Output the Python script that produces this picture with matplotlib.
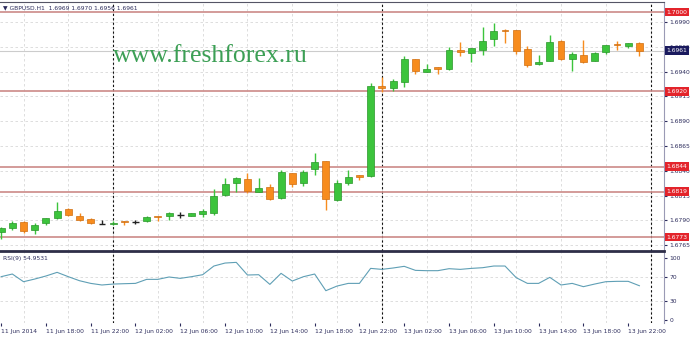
import matplotlib.pyplot as plt
import numpy as np

# GBPUSD H1 candles, first bar = 11 Jun 14:00
opens = [1.67779, 1.67820, 1.67886, 1.67803, 1.67870, 1.67920, 1.68011, 1.67947, 1.67910, 1.67866,
         1.67866, 1.67890, 1.67886, 1.67893, 1.67941, 1.67944, 1.67954, 1.67944, 1.67964, 1.67971,
         1.68155, 1.68273, 1.68314, 1.68189, 1.68233, 1.68122, 1.68374, 1.68273, 1.68414, 1.68501,
         1.68105, 1.68279, 1.68357, 1.68350, 1.69254, 1.69231, 1.69291, 1.69523, 1.69398, 1.69443,
         1.69425, 1.69617, 1.69590, 1.69617, 1.69728, 1.69822, 1.69819, 1.69624, 1.69476, 1.69509,
         1.69711, 1.69526, 1.69567, 1.69509, 1.69594, 1.69680, 1.69660, 1.69690]
highs = [1.67836, 1.67893, 1.67896, 1.67870, 1.67923, 1.68082, 1.68024, 1.67971, 1.67920, 1.67903,
         1.67895, 1.67893, 1.67903, 1.67944, 1.67944, 1.67987, 1.67984, 1.67974, 1.68011, 1.68213,
         1.68324, 1.68332, 1.68380, 1.68324, 1.68266, 1.68407, 1.68377, 1.68407, 1.68576, 1.68501,
         1.68307, 1.68407, 1.68357, 1.69287, 1.69348, 1.69325, 1.69560, 1.69526, 1.69473, 1.69446,
         1.69644, 1.69695, 1.69637, 1.69852, 1.69886, 1.69824, 1.69822, 1.69660, 1.69567, 1.69768,
         1.69713, 1.69594, 1.69718, 1.69592, 1.69670, 1.69708, 1.69691, 1.69700]
lows = [1.67712, 1.67803, 1.67769, 1.67759, 1.67853, 1.67913, 1.67944, 1.67893, 1.67863, 1.67866,
        1.67850, 1.67853, 1.67868, 1.67883, 1.67893, 1.67903, 1.67927, 1.67941, 1.67937, 1.67954,
        1.68145, 1.68189, 1.68179, 1.68186, 1.68105, 1.68115, 1.68239, 1.68246, 1.68357, 1.68004,
        1.68100, 1.68256, 1.68307, 1.68340, 1.69197, 1.69204, 1.69247, 1.69372, 1.69395, 1.69375,
        1.69415, 1.69560, 1.69499, 1.69567, 1.69660, 1.69684, 1.69574, 1.69449, 1.69466, 1.69506,
        1.69516, 1.69405, 1.69491, 1.69506, 1.69574, 1.69617, 1.69640, 1.69560]
closes = [1.67820, 1.67870, 1.67792, 1.67853, 1.67920, 1.67997, 1.67951, 1.67900, 1.67870, 1.67866,
          1.67872, 1.67883, 1.67886, 1.67937, 1.67934, 1.67971, 1.67954, 1.67971, 1.67994, 1.68145,
          1.68266, 1.68324, 1.68199, 1.68223, 1.68112, 1.68384, 1.68263, 1.68390, 1.68491, 1.68112,
          1.68279, 1.68340, 1.68340, 1.69257, 1.69237, 1.69304, 1.69523, 1.69408, 1.69425, 1.69422,
          1.69617, 1.69600, 1.69634, 1.69711, 1.69808, 1.69808, 1.69610, 1.69466, 1.69499, 1.69695,
          1.69523, 1.69574, 1.69493, 1.69590, 1.69667, 1.69667, 1.69688, 1.69610]

rsi = [69.9, 74.2, 61.8, 66.1, 71.0, 76.9, 69.9, 63.4, 59.1, 56.5,
       58.0, 58.6, 59.1, 65.6, 65.6, 69.4, 67.2, 69.9, 73.1, 87.1,
       91.9, 93.0, 72.6, 73.1, 57.5, 75.3, 62.9, 69.9, 74.2, 47.3,
       54.8, 59.1, 59.1, 83.3, 81.7, 83.9, 86.6, 80.1, 79.6, 79.6,
       82.8, 81.7, 83.3, 84.4, 87.1, 87.1, 68.3, 59.1, 59.1, 68.8,
       56.5, 59.1, 53.8, 58.0, 61.8, 62.4, 62.4, 55.3]

time_labels = ['11 Jun 2014', '11 Jun 18:00', '11 Jun 22:00', '12 Jun 02:00', '12 Jun 06:00',
               '12 Jun 10:00', '12 Jun 14:00', '12 Jun 18:00', '12 Jun 22:00', '13 Jun 02:00',
               '13 Jun 06:00', '13 Jun 10:00', '13 Jun 14:00', '13 Jun 18:00', '13 Jun 22:00']
price_ticks = [1.6990, 1.6965, 1.6940, 1.6915, 1.6890, 1.6865, 1.6840, 1.6815, 1.6790, 1.6765]
levels = [1.7000, 1.6920, 1.6844, 1.6819, 1.6773]
last_price = 1.6961
day_starts = [10, 34, 58]  # 12 Jun, 13 Jun, 14 Jun 00:00

green, green_edge = '#3cc43c', '#2a962a'
orange, orange_edge = '#f78c1e', '#d06e10'
txt_col = '#2c2c5c'
fs = 4.3

fig = plt.figure(figsize=(6.94, 3.37), dpi=100)
ax = fig.add_axes([0, 0.2552, 0.9568, 0.7389])
ax2 = fig.add_axes([0, 0.04154, 0.9568, 0.2136])

n = len(opens)
x = np.arange(n)
for i in range(n):
    o, h, l, c = opens[i], highs[i], lows[i], closes[i]
    if c > o:
        col, edge = green, green_edge
    elif c < o:
        col, edge = orange, orange_edge
    else:
        col, edge = '#222222', '#222222'
    ax.vlines(i, l, h, color=col, lw=1, zorder=3)
    if o == c:
        ax.hlines(o, i - 0.3, i + 0.3, color=col, lw=1, zorder=4)
    else:
        ax.bar(i, abs(c - o), 0.62, bottom=min(o, c), color=col, edgecolor=edge,
               lw=0.5, zorder=4)

ax.set_xlim(-0.1, 59.2)
ax.set_ylim(1.67591, 1.70101)

# grid
ax.set_xticks(np.arange(2, 59, 4))
ax.set_yticks(price_ticks)
ax.grid(color='#d8d8d8', ls=(0, (3, 3)), lw=0.6)
ax.set_axisbelow(True)
ax.tick_params(axis='x', length=0, labelbottom=False)
ax.yaxis.tick_right()
ax.tick_params(axis='y', length=2, pad=2, labelsize=fs, colors=txt_col)
ax.set_yticklabels(['%.4f' % t for t in price_ticks])

for d in day_starts:
    ax.axvline(d, color='#111111', ls=(0, (2, 2)), lw=0.8, zorder=2)
    ax2.axvline(d, color='#111111', ls=(0, (2, 2)), lw=0.8, zorder=2)

ax.axhline(last_price, color='#cccccc', lw=0.8, zorder=2)
for lv in levels:
    ax.axhline(lv, color='#cc8a88', lw=1.2, zorder=2)
    ax.text(1.004, lv, '%.4f' % lv, transform=ax.get_yaxis_transform(), ha='left',
            va='center', fontsize=fs, color='white', clip_on=False, zorder=10,
            bbox=dict(boxstyle='square,pad=0.3', fc='#e3242b', ec='none'))
ax.text(1.004, last_price, '%.4f' % last_price, transform=ax.get_yaxis_transform(),
        ha='left', va='center', fontsize=fs, color='white', clip_on=False, zorder=10,
        bbox=dict(boxstyle='square,pad=0.3', fc='#1a1a5e', ec='none'))

ax.text(0.004, 0.977, '\u25bc GBPUSD.H1  1.6969 1.6970 1.6956 1.6961', transform=ax.transAxes,
        ha='left', va='center', fontsize=fs, color=txt_col)
ax.text(0.170, 0.785, 'www.freshforex.ru', transform=ax.transAxes, ha='left', va='center',
        fontsize=18.5, family='Liberation Serif', color='#3c9f55')

for s in ['left', 'bottom']:
    ax.spines[s].set_visible(False)
ax.spines['top'].set_color('#555566')
ax.spines['right'].set_color('#9a9ab5')

# RSI panel
ax2.plot(x, rsi, color='#5f9fb5', lw=0.8, zorder=3)
ax2.set_xlim(-0.1, 59.2)
ax2.set_ylim(-4.8, 111.3)
for g in [30, 70]:
    ax2.axhline(g, color='#d8d8d8', ls=(0, (3, 3)), lw=0.6, zorder=1)
ax2.set_xticks(np.arange(2, 59, 4), minor=True)
ax2.grid(which='minor', axis='x', color='#d8d8d8', ls=(0, (3, 3)), lw=0.6)
ax2.set_xticks(np.arange(0, 57, 4))
ax2.set_xticklabels(time_labels, ha='left')
ax2.tick_params(axis='x', which='major', length=2, pad=2, labelsize=fs, colors=txt_col)
ax2.tick_params(axis='x', which='minor', length=0)
ax2.yaxis.tick_right()
ax2.set_yticks([0, 30, 70, 100])
ax2.tick_params(axis='y', length=2, pad=2, labelsize=fs, colors=txt_col)
ax2.text(0.004, 0.89, 'RSI(9) 54.9531', transform=ax2.transAxes, ha='left', va='center',
         fontsize=fs, color=txt_col)
for s in ['left', 'bottom']:
    ax2.spines[s].set_visible(False)
ax2.spines['top'].set_color('#2e2e48')
ax2.spines['top'].set_linewidth(2)
ax2.spines['right'].set_color('#9a9ab5')

fig.savefig('out.png', dpi=100)
